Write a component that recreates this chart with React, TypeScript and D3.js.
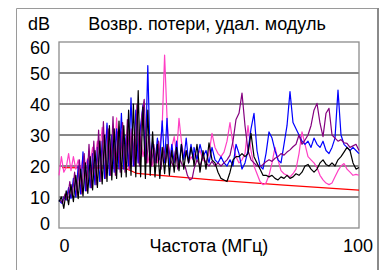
import React from "react";
import * as d3 from "d3";

// sample grids (MHz): dense sweep below 45 MHz, 1 MHz steps above
const lowFreq = d3.range(57).map((i) => i * 0.8);
const lowFreqShifted = d3.range(56).map((i) => 0.4 + i * 0.8);
const highFreq = d3.range(45, 101);

const blackLow = [8.5, 10, 6.3, 12, 7.5, 14, 8.5, 17, 9.5, 19, 10.3, 21, 11.2, 23, 12.3, 25, 13.1, 28, 14.2, 30, 15, 33, 15.5, 32, 16, 34.5, 16.5, 33, 16.5, 38, 17, 40, 16.5, 44.3, 16.5, 39, 16, 38, 17, 31, 16.5, 27, 16, 26, 17.5, 27, 17, 25, 18, 26, 18.5, 27, 19, 25, 21, 26, 22];
const blackHigh = [20, 27, 18, 25, 19, 27.5, 22, 21, 18, 16, 15.5, 15, 18, 22, 23, 23, 24, 23, 24, 30.5, 23, 21, 19, 17, 17, 16.5, 17, 16, 15.5, 16.5, 16, 17, 16, 16.5, 17.5, 17, 18, 20, 20.5, 19, 18, 19, 21, 22, 20.5, 20, 21, 20, 22, 23, 24.5, 26, 25, 21, 19, 19.5];

const blueLow = [9, 8, 10, 9, 13, 9.5, 16, 10, 20, 11, 24.6, 12, 22, 13, 24, 14, 26, 15, 28, 16, 33.8, 17, 30, 18, 32, 19, 37, 19, 30, 20, 42, 20, 38, 21, 33, 39.7, 22, 52.4, 21, 28, 21, 29, 22, 34.6, 21, 35.4, 20, 27, 21, 28, 20, 27, 22, 29, 21, 27, 22];
const blueHigh = [26, 22, 27, 23, 25, 21, 26, 22, 21, 23, 21, 20, 22, 20, 27, 24, 19, 21, 25, 32, 37, 25, 20, 19, 24, 31, 29, 25, 22, 21, 27, 33, 44, 34, 32, 30, 28, 27, 28, 26, 29, 27, 26, 28, 25, 24, 26, 29, 44.5, 30, 27, 26, 25, 26, 25, 24];

const purpleLow = [9, 8, 11, 9, 15, 10, 18, 10.5, 22, 11, 24, 12, 27, 13, 28, 14, 31.6, 15, 34.3, 16, 32, 17, 35.9, 17, 31, 18, 34, 18, 35, 19, 32, 20, 40, 20, 36, 41.5, 21, 30, 20, 27, 21, 28, 19, 26, 21, 27, 22, 20, 25, 19, 22, 20, 20, 17, 15.5, 16];
const purpleHigh = [19, 22, 20, 23, 21, 20, 21.5, 20, 21, 20, 21, 22, 23.5, 28, 35, 37, 43.5, 33, 25, 22, 21, 20, 19.8, 20.5, 21.4, 22, 21.5, 22.5, 23, 24, 23.5, 24.5, 25.2, 26.2, 27, 30, 27, 28.4, 30, 33, 38, 40.2, 33.8, 29.5, 37, 38.6, 30, 29, 28, 28.5, 27.5, 27.3, 26, 26.5, 27, 25];

const pinkLow = [17, 23, 18, 19.5, 24, 18.5, 23, 19, 22, 18, 23, 20, 22.5, 21, 26, 22, 28, 24, 32.5, 25, 33, 22, 30, 21, 35.5, 22, 31, 20, 29, 19, 32, 20, 27, 21, 30, 23, 27, 21, 25, 20, 24, 21, 26, 33, 55.8, 36, 21, 26, 29.5, 24, 35.4, 28, 23, 25, 21, 23, 22];
const pinkHigh = [24, 23, 25, 22, 21, 24, 30.5, 26, 24, 23, 24.5, 28, 34, 27, 23, 21, 22, 24, 33, 25, 20, 17.5, 15, 14, 14.5, 17, 21, 26, 22, 18.5, 17.5, 17, 16.5, 17.5, 19, 24, 31, 27, 23, 22, 21, 19.5, 17, 15.5, 14.5, 14, 14.5, 16.5, 18.5, 20, 20.8, 19, 18, 17, 17.3, 17];

// limit line
const limitFreq = [1, 22, 26, 51, 75, 100];
const limitValues = [19.5, 19.3, 17.6, 15.5, 13.8, 12.2];

const yTicks = [0, 10, 20, 30, 40, 50, 60];

const series = [
  { name: "pink", color: "#ff3fc4", freq: [...lowFreq, ...highFreq], values: [...pinkLow, ...pinkHigh] },
  { name: "blue", color: "#0000ff", freq: [...lowFreq, ...highFreq], values: [...blueLow, ...blueHigh] },
  { name: "purple", color: "#84007f", freq: [...lowFreqShifted, ...highFreq], values: [...purpleLow, ...purpleHigh] },
  { name: "black", color: "#000000", freq: [...lowFreq, ...highFreq], values: [...blackLow, ...blackHigh] },
];

const font = "'Liberation Sans', Arial, sans-serif";

export default function App() {
  const margin = { left: 59, right: 26, top: 42, bottom: 42 };
  const width = 385;
  const height = 270;

  const x = d3.scaleLinear().domain([0, 100]).range([margin.left, width - margin.right]);
  const y = d3.scaleLinear().domain([0, 60]).range([height - margin.bottom, margin.top]);

  const line = d3
    .line<[number, number]>()
    .x((d) => x(d[0]))
    .y((d) => y(d[1]));

  const limitPath = line(limitFreq.map((f, i) => [f, limitValues[i]]));

  // tick labels sit slightly inside the plot at both ends
  const labelShift = (t: number) => (t === 60 ? 5.5 : t === 0 ? -4 : 0.5);

  return (
    <svg width={width} height={height} style={{ position: "absolute", left: 0, top: 0 }} fontFamily={font}>
      <rect x={0} y={0} width={width} height={height} fill="#fff" />
      {/* outer frame */}
      <path d="M16.5,270 V8.5 H378" fill="none" stroke="#9a9a9a" strokeWidth={1} />
      <line x1={378} y1={8} x2={378} y2={270} stroke="#8a8a8a" strokeWidth={2} />

      <text x={28} y={30} fontSize={18} fill="#000">dB</text>
      <text x={207} y={30} fontSize={18} textAnchor="middle" fill="#000">
        Возвр. потери, удал. модуль
      </text>

      {/* grid */}
      {yTicks.slice(1, -1).map((t) => (
        <line key={t} x1={x(0)} x2={x(100)} y1={y(t)} y2={y(t)} stroke="#5f5f5f" strokeWidth={1.3} />
      ))}
      <rect x={x(0)} y={y(60)} width={x(100) - x(0)} height={y(0) - y(60)} fill="none" stroke="#8c8c8c" strokeWidth={1.3} />

      {yTicks.map((t) => (
        <text key={t} x={50} y={y(t) + labelShift(t)} dy="0.35em" fontSize={18} textAnchor="end" fill="#000">
          {t}
        </text>
      ))}

      <text x={x(0) + 0.5} y={252} fontSize={18} fill="#000">0</text>
      <text x={x(100) - 1} y={252} fontSize={18} textAnchor="middle" fill="#000">100</text>
      <text x={(x(0) + x(100)) / 2} y={252} fontSize={18} textAnchor="middle" fill="#000">
        Частота (МГц)
      </text>

      <path d={limitPath ?? ""} fill="none" stroke="#ff0000" strokeWidth={1.2} />
      {series.map((s) => (
        <path
          key={s.name}
          d={line(s.freq.map((f, i) => [f, s.values[i]])) ?? ""}
          fill="none"
          stroke={s.color}
          strokeWidth={1.2}
          strokeLinejoin="round"
        />
      ))}
    </svg>
  );
}
